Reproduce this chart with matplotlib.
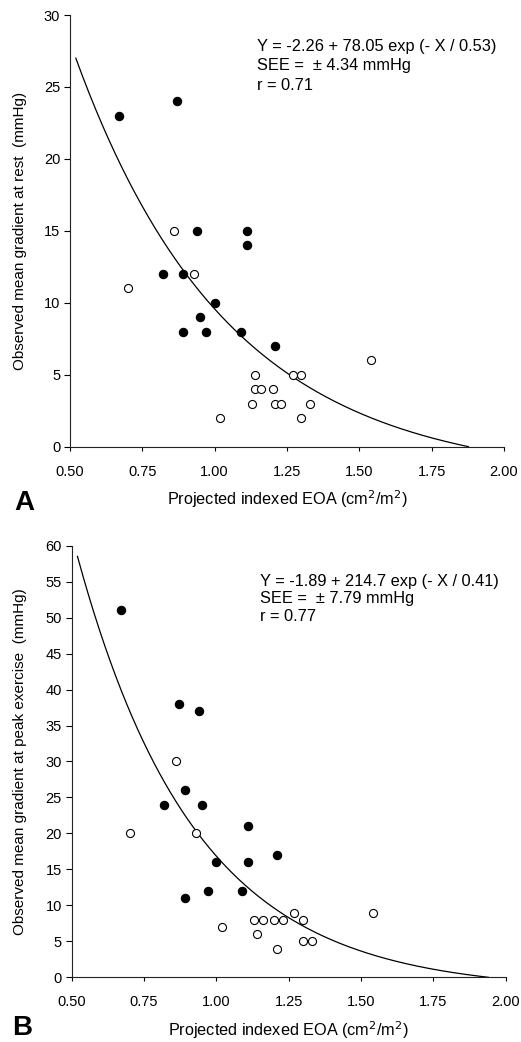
import numpy as np
import matplotlib
matplotlib.use("Agg")
import matplotlib.pyplot as plt
from matplotlib.ticker import FormatStrFormatter

plt.rcParams['font.family'] = ['Liberation Sans', 'DejaVu Sans']

# panel A: gradient at rest
rest_filled_x = [0.67, 0.87, 0.94, 1.11, 1.11, 0.82, 0.89, 1.00, 0.95, 0.89, 0.97, 1.09, 1.21]
rest_filled_y = [23, 24, 15, 15, 14, 12, 12, 10, 9, 8, 8, 8, 7]
rest_open_x = [0.86, 0.93, 0.70, 1.54, 1.14, 1.27, 1.30, 1.14, 1.16, 1.20, 1.13, 1.21, 1.23, 1.33, 1.02, 1.30]
rest_open_y = [15, 12, 11, 6, 5, 5, 5, 4, 4, 4, 3, 3, 3, 3, 2, 2]
rest_fit = (-2.26, 78.05, 0.53)

# panel B: gradient at peak exercise
peak_filled_x = [0.67, 0.87, 0.94, 0.89, 0.82, 0.95, 1.11, 1.21, 1.00, 1.11, 0.97, 1.09, 0.89]
peak_filled_y = [51, 38, 37, 26, 24, 24, 21, 17, 16, 16, 12, 12, 11]
peak_open_x = [0.86, 0.70, 0.93, 1.27, 1.54, 1.13, 1.16, 1.20, 1.23, 1.30, 1.02, 1.14, 1.30, 1.33, 1.21]
peak_open_y = [30, 20, 20, 9, 9, 8, 8, 8, 8, 8, 7, 6, 5, 5, 4]
peak_fit = (-1.89, 214.7, 0.41)

fig = plt.figure(figsize=(5.21, 10.42), dpi=100)


def panel(rect, fx, fy, ox, oy, fit, ymax, ylabel, lines, letter, ylab_x, text_pos, lsp, letter_pos):
    ax = fig.add_axes(rect)
    a, b, t = fit
    x0 = 0.52
    x1 = -t * np.log(-a / b)
    xs = np.linspace(x0, x1, 300)
    ax.plot(xs, a + b * np.exp(-xs / t), color='black', lw=0.9, zorder=2)
    ax.plot(fx, fy, 'o', ms=6, mfc='black', mec='black', mew=0.8, zorder=3)
    ax.plot(ox, oy, 'o', ms=5.8, mfc='white', mec='black', mew=0.8, zorder=3)

    ax.set_xlim(0.5, 2.0)
    ax.set_ylim(0, ymax)
    ax.set_xticks(np.arange(0.5, 2.01, 0.25))
    ax.set_yticks(np.arange(0, ymax + 0.1, 5))
    ax.xaxis.set_major_formatter(FormatStrFormatter('%.2f'))
    for s in ['top', 'right']:
        ax.spines[s].set_visible(False)
    for s in ['left', 'bottom']:
        ax.spines[s].set_linewidth(0.8)
        ax.spines[s].set_color('#222222')
    ax.tick_params(axis='x', length=3, width=0.8, pad=10, labelsize=10.5)
    ax.tick_params(axis='y', length=4, width=0.8, pad=3, labelsize=10.5)

    ax.set_xlabel('Projected indexed EOA (cm$^2$/m$^2$)', fontsize=11.7, labelpad=7)
    ax.set_ylabel(ylabel, fontsize=11)
    ax.yaxis.set_label_coords(ylab_x, 0.5)

    ax.text(text_pos[0], text_pos[1], '\n'.join(lines), transform=ax.transAxes,
            fontsize=11.8, va='top', ha='left', linespacing=lsp)
    fig.text(letter_pos[0], letter_pos[1], letter, fontsize=20, fontweight='bold',
             ha='left', va='baseline')
    return ax


panel([0.1344, 0.5713, 0.833, 0.4143], rest_filled_x, rest_filled_y, rest_open_x, rest_open_y,
      rest_fit, 30, 'Observed mean gradient at rest  (mmHg)',
      ['Y = -2.26 + 78.05 exp (- X / 0.53)', 'SEE =  \u00b1 4.34 mmHg', 'r = 0.71'],
      'A', -0.099, (0.430, 0.945), 1.38, (0.027, 1 - 510 / 1042))

panel([0.1376, 0.0621, 0.833, 0.4142], peak_filled_x, peak_filled_y, peak_open_x, peak_open_y,
      peak_fit, 60, 'Observed mean gradient at peak exercise  (mmHg)',
      ['Y = -1.89 + 214.7 exp (- X / 0.41)', 'SEE =  \u00b1 7.79 mmHg', 'r = 0.77'],
      'B', -0.103, (0.434, 0.935), 1.22, (0.024, 1 - 1035 / 1042))

fig.savefig('out.png', dpi=100)
